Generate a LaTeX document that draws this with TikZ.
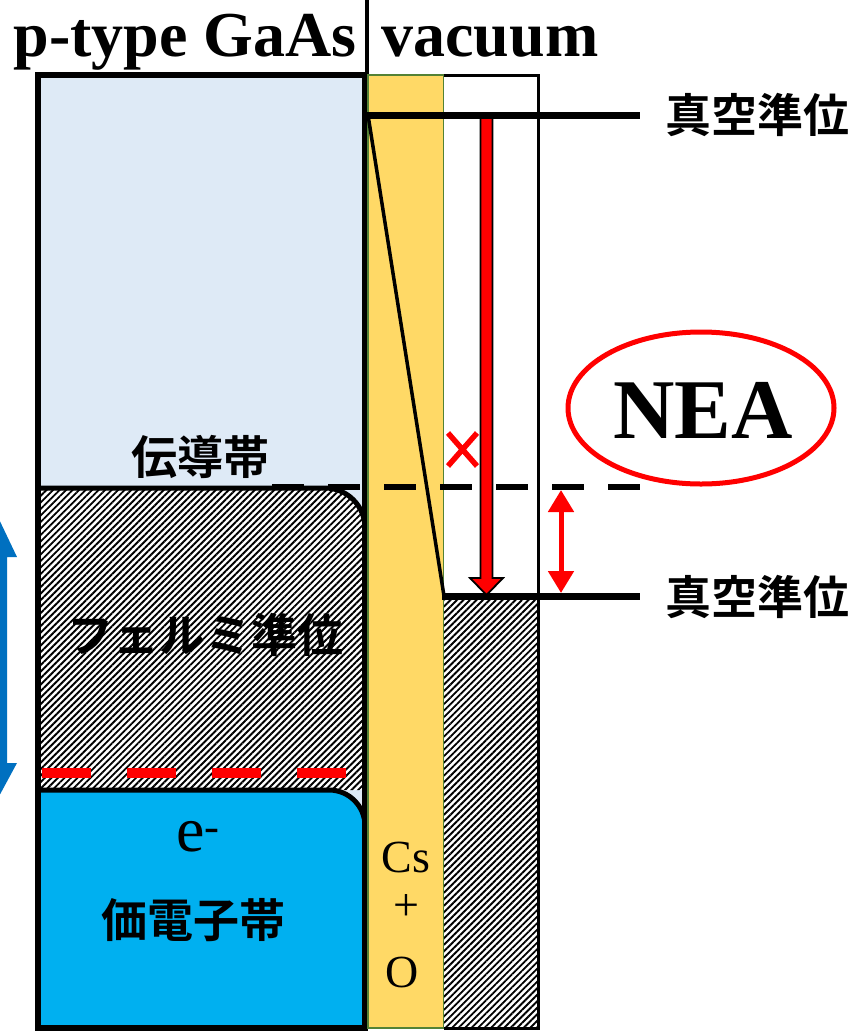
\documentclass[tikz,border=0pt]{standalone}
\usepackage{fontspec}
\setmainfont{Liberation Serif}
\newfontfamily\jp{Noto Sans CJK JP}[BoldFont={Noto Sans CJK JP Bold}]
\usetikzlibrary{patterns.meta,arrows.meta,shapes.geometric}
\definecolor{cbblue}{HTML}{DEEAF6}
\definecolor{vbblue}{HTML}{00B0F0}
\definecolor{csyellow}{HTML}{FFD966}
\definecolor{csgreen}{HTML}{548235}
\definecolor{arrowblue}{HTML}{0070C0}
\tikzset{
  hatch/.style={pattern={Lines[angle=45,distance=4.6pt,line width=1.9pt]},pattern color=black},
  jplabel/.style={font=\jp\bfseries\fontsize{46}{50}\selectfont, inner sep=0pt},
  head/.style={font=\bfseries\fontsize{64}{64}\selectfont, inner sep=0pt, anchor=base},
  serifl/.style={font=\fontsize{46}{50}\selectfont, inner sep=0pt},
  level/.style={line width=7pt},
}
\begin{document}
\begin{tikzpicture}[x=1pt,y=-1pt]
\useasboundingbox (0,0) rectangle (857,1031);
% left GaAs box
\fill[cbblue] (38,75) rectangle (365,1028);
\fill[white] (38,790) -- (38,488) [rounded corners=40pt] -- (365,488) [sharp corners] -- (365,790) -- cycle;
\path[hatch] (38,790) -- (38,488) [rounded corners=40pt] -- (365,488) [sharp corners] -- (365,790) -- cycle;
\draw[line width=5pt] (38,790) -- (38,488) [rounded corners=40pt] -- (365,488) [sharp corners] -- (365,790);
\draw[line width=5pt, fill=vbblue] (38,1028) -- (38,790) [rounded corners=36pt] -- (365,790) [sharp corners] -- (365,1028) -- cycle;
\draw[red, line width=10pt, dash pattern=on 49pt off 36pt] (42,773) -- (347,773);
\draw[line width=6pt] (38,75) rectangle (365,1028);
\draw[line width=4pt] (367,0) -- (367,75);
% Cs+O layer
\draw[csgreen, line width=2pt, fill=csyellow] (368,75) rectangle (444,1028);
% vacuum
\fill[white] (444,75) rectangle (538,1028);
\path[hatch] (444,597) rectangle (538,1028);
\draw[line width=3pt] (444,75) -- (538,75) -- (538,1028) -- (444,1028);
% levels
\coordinate (vt) at (368,115);
\coordinate (vb) at (444,596);
\coordinate (vtr) at (640,115);
\coordinate (vbr) at (640,596);
\draw[level] (367,115) -- (vtr);
\draw[line width=3.5pt] (vt) -- (vb);
\draw[level] (442,596) -- (vbr);
\draw[line width=6pt, dash pattern=on 32pt off 24pt] (272,487) -- (640,487);
% red arrow
\draw[fill=red, line width=1.8pt] (480.5,118) -- (492.5,118) -- (492.5,578) -- (503,578) -- (486.5,595) -- (470,578) -- (480.5,578) -- cycle;
% red x
\draw[red, line width=5.5pt] (448,433) -- (477,466) (448,466) -- (477,433);
% red double arrow
\coordinate (da1) at (561,490);
\coordinate (da2) at (561,593);
\draw[red, line width=5pt, {Triangle[width=25pt,length=22pt]}-{Triangle[width=25pt,length=22pt]}] (da1) -- (da2);
% NEA
\node[draw=red, line width=5pt, ellipse, minimum width=266pt, minimum height=152pt, inner sep=0pt] (nea) at (701,408) {};
\node[font=\bfseries\fontsize{85}{85}\selectfont, anchor=base, inner sep=0pt] (neat) at (703,438) {NEA};
% blue arrow
\begin{scope}
\clip (0,0) rectangle (857,1031);
\fill[arrowblue] (-3,515) -- (17,557) -- (7,557) -- (7,763) -- (17,763) -- (-3,800) -- (-23,763) -- (-13,763) -- (-13,557) -- (-23,557) -- cycle;
\end{scope}
% texts
\node[head] (h1) at (185,56) {p-type GaAs};
\node[head] (h2) at (490,56) {vacuum};
\node[jplabel, anchor=west] (l1) at (665,115) {真空準位};
\node[jplabel, anchor=west] (l2) at (665,597) {真空準位};
\node[jplabel] (cb) at (200,457) {伝導帯};
\node[jplabel] (fl) at (205,635) {フェルミ準位};
\node[jplabel] (vbl) at (193,920) {価電子帯};
\node[font=\fontsize{64}{64}\selectfont, inner sep=0pt, anchor=base] (e) at (198,851) {e\textsuperscript{-}};
\node[serifl, anchor=base] (cs) at (406,872) {Cs};
\node[serifl] (plus) at (406,907) {+};
\node[serifl, anchor=base] (o) at (402,987) {O};
\end{tikzpicture}
\end{document}
